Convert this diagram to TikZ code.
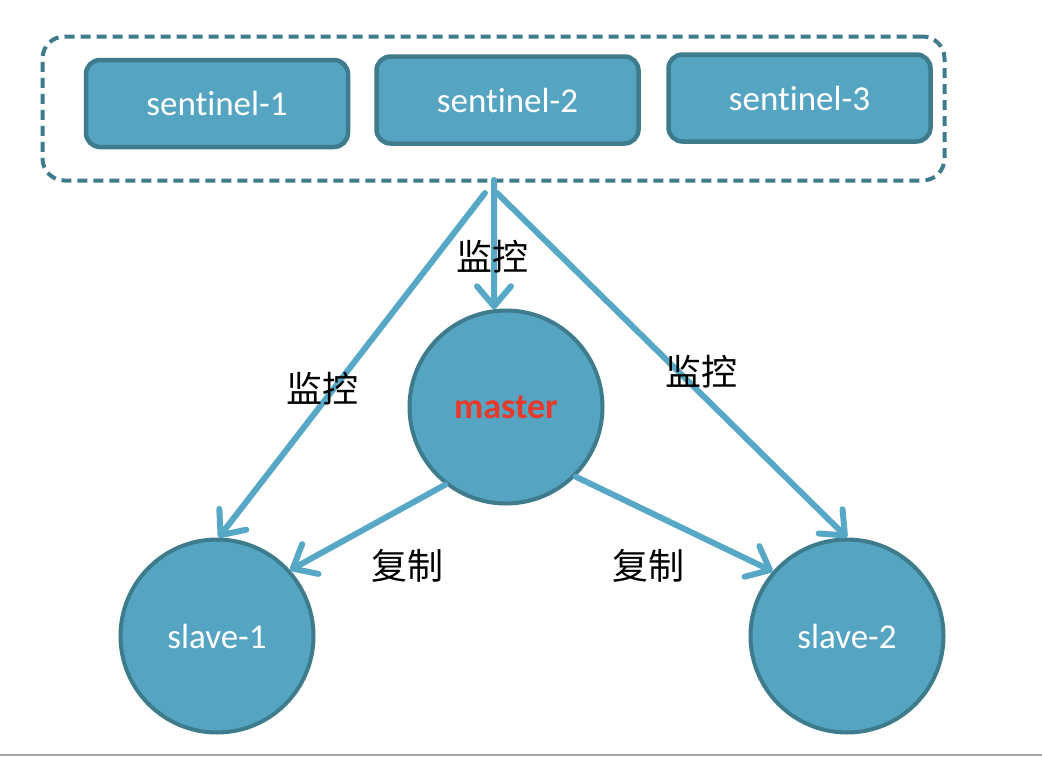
\documentclass[tikz,border=0pt]{standalone}
\usepackage{fontspec}
\setmainfont[Ligatures=NoCommon]{Carlito}
\newfontfamily\cjk{Noto Sans CJK SC}
\usetikzlibrary{arrows.meta}
\definecolor{nodefill}{HTML}{55A5C2}
\definecolor{nodeedge}{HTML}{3E7B8C}
\definecolor{arrowc}{HTML}{57A8C6}
\definecolor{mred}{HTML}{E8392A}
\tikzset{
  sentbox/.style={draw=nodeedge, fill=nodefill, line width=4.5pt, rounded corners=14pt,
    minimum width=262pt, minimum height=87pt, text=white, font=\fontsize{35}{38}\selectfont},
  roundnode/.style={circle, draw=nodeedge, fill=nodefill, line width=4pt, minimum size=193pt,
    text=white, font=\fontsize{35}{38}\selectfont},
  groupbox/.style={draw=nodeedge, line width=4pt, dash pattern=on 10pt off 6pt, rounded corners=22pt,
    minimum width=902pt, minimum height=144pt},
  conn/.style={draw=arrowc, line width=6pt, line cap=round,
    -{Straight Barb[length=20pt, width=34pt, line cap=round, line join=round]}},
  lbl/.style={font=\cjk\fontsize{36}{39}\selectfont, text=black},
}
\begin{document}
\begin{tikzpicture}[x=1pt, y=-1pt]
\useasboundingbox (0,0) rectangle (1042,756);
\draw[gray!70, line width=2pt] (0,754.5) -- (1042,754.5);
\node[groupbox] (grp) at (493.5,108.5) {};
\node[sentbox] (s1) at (217,103.5) {sentinel-1};
\node[sentbox] (s2) at (507.5,100) {sentinel-2};
\node[sentbox] (s3) at (799.5,98) {sentinel-3};
\node[roundnode] (master) at (506,407) {\fontsize{36}{38}\selectfont\textbf{\textcolor{mred}{master}}};
\node[roundnode] (slave1) at (217,636) {slave-1};
\node[roundnode] (slave2) at (847,636) {slave-2};
\coordinate (mc) at (494,180);
\coordinate (ml) at (485,193);
\coordinate (mr) at (497,193);
\draw[conn] (mc) -- (master.97);
\draw[conn] (ml) -- (slave1.89);
\draw[conn] (mr) -- (slave2.90);
\draw[conn] (master.-128) -- (slave1.42);
\draw[conn] (master.-45) -- (slave2.139);
\node[lbl] (l1) at (492,257) {监控};
\node[lbl] (l2) at (322,389) {监控};
\node[lbl] (l3) at (701,372) {监控};
\node[lbl] (l4) at (407,566) {复制};
\node[lbl] (l5) at (648,566) {复制};
\end{tikzpicture}
\end{document}
